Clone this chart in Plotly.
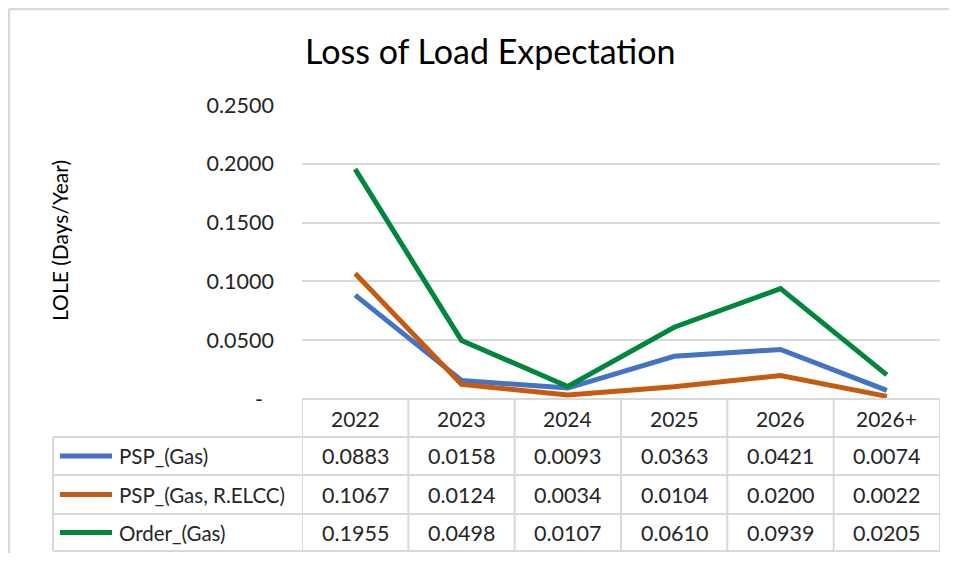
import plotly.graph_objects as go

categories = ["2022", "2023", "2024", "2025", "2026", "2026+"]
series_names = ["PSP_(Gas)", "PSP_(Gas, R.ELCC)", "Order_(Gas)"]
psp_gas = [0.0883, 0.0158, 0.0093, 0.0363, 0.0421, 0.0074]
psp_gas_relcc = [0.1067, 0.0124, 0.0034, 0.0104, 0.0200, 0.0022]
order_gas = [0.1955, 0.0498, 0.0107, 0.0610, 0.0939, 0.0205]
y_ticks = [0.0, 0.05, 0.10, 0.15, 0.20, 0.25]
y_tick_labels = ["-\u00a0\u00a0", "0.0500", "0.1000", "0.1500", "0.2000", "0.2500"]
colors = ["#4472C4", "#C55A11", "#00873C"]

# page has an 8px body margin; the figure is sized to fit inside the window
OFF = 8
W, H = 957 - 2 * OFF, 561 - 2 * OFF
FONT = "Lato"
GRID = "#D9D9D9"
TXT = "#262626"

def px(x):
    return (x - OFF) / W

def py(y):
    return 1 - (y - OFF) / H

plot_left, plot_right = 302, 940
plot_top, plot_bottom = 105, 399
row_lines = [399, 437, 475, 514, 551]
table_left = 53

fig = go.Figure()
all_series = [psp_gas, psp_gas_relcc, order_gas]
idx = list(range(len(categories)))
for name, vals, col in zip(series_names, all_series, colors):
    fig.add_trace(go.Scatter(x=idx, y=vals, mode="lines", name=name,
                             line=dict(color=col, width=5), showlegend=False,
                             hoverinfo="skip"))

shapes = []
# outer chart-area border (left and top edges visible in the reference)
shapes.append(dict(type="line", xref="paper", yref="paper",
                   x0=px(9), x1=px(9), y0=0, y1=py(9), line=dict(color=GRID, width=2.5)))
shapes.append(dict(type="line", xref="paper", yref="paper",
                   x0=px(9), x1=1, y0=py(9), y1=py(9), line=dict(color=GRID, width=2.5)))
for i, yl in enumerate(row_lines):
    x0 = plot_left if i == 0 else table_left
    shapes.append(dict(type="line", xref="paper", yref="paper",
                       x0=px(x0), x1=px(plot_right), y0=py(yl), y1=py(yl),
                       line=dict(color=GRID, width=2)))
n = len(categories)
for k in range(n + 1):
    shapes.append(dict(type="line", xref="x", yref="paper",
                       x0=k - 0.5, x1=k - 0.5, y0=py(row_lines[0]), y1=py(row_lines[-1]),
                       line=dict(color=GRID, width=2)))
shapes.append(dict(type="line", xref="paper", yref="paper",
                   x0=px(table_left), x1=px(table_left), y0=py(row_lines[1]), y1=py(row_lines[-1]),
                   line=dict(color=GRID, width=2)))

annotations = []
hdr_y = (row_lines[0] + row_lines[1]) / 2
for i, c in enumerate(categories):
    annotations.append(dict(x=i, xref="x", y=py(hdr_y), yref="paper", text=c,
                            showarrow=False, font=dict(size=21, color=TXT, family=FONT),
                            xanchor="center", yanchor="middle"))
for r, (name, vals, col) in enumerate(zip(series_names, all_series, colors)):
    yc = (row_lines[r + 1] + row_lines[r + 2]) / 2
    shapes.append(dict(type="line", xref="paper", yref="paper",
                       x0=px(60), x1=px(112), y0=py(yc), y1=py(yc),
                       line=dict(color=col, width=5)))
    annotations.append(dict(x=px(117), xref="paper", y=py(yc), yref="paper", text=name,
                            showarrow=False, font=dict(size=20.5, color=TXT, family=FONT),
                            xanchor="left", yanchor="middle"))
    for i, v in enumerate(vals):
        annotations.append(dict(x=i, xref="x", y=py(yc), yref="paper", text=f"{v:.4f}",
                                showarrow=False, font=dict(size=21.5, color=TXT, family=FONT),
                                xanchor="center", yanchor="middle"))

annotations.append(dict(x=px(490), xref="paper", y=py(50), yref="paper",
                        text="Loss of Load Expectation", showarrow=False,
                        font=dict(size=34, color="#000000", family=FONT),
                        xanchor="center", yanchor="middle"))
annotations.append(dict(x=px(60), xref="paper", y=py(241), yref="paper",
                        text="LOLE (Days/Year)", textangle=-90, showarrow=False,
                        font=dict(size=21, color="#000000", family=FONT),
                        xanchor="center", yanchor="middle"))

fig.update_layout(
    width=W, height=H,
    margin=dict(l=0, r=0, t=0, b=0, autoexpand=False),
    paper_bgcolor="white", plot_bgcolor="white",
    xaxis=dict(domain=[px(plot_left), px(plot_right)], automargin=False,
               range=[-0.5, n - 0.5], showticklabels=False, showgrid=False,
               zeroline=False, showline=False, fixedrange=True),
    yaxis=dict(domain=[py(plot_bottom), py(plot_top)], range=[0, 0.25], automargin=False,
               tickvals=y_ticks, ticktext=y_tick_labels, showgrid=True,
               gridcolor=GRID, gridwidth=2, zeroline=False, showline=False,
               ticks="", ticklabelstandoff=27, fixedrange=True,
               tickfont=dict(size=21.5, color=TXT, family=FONT)),
    shapes=shapes, annotations=annotations,
)

fig.write_html("out.html")
